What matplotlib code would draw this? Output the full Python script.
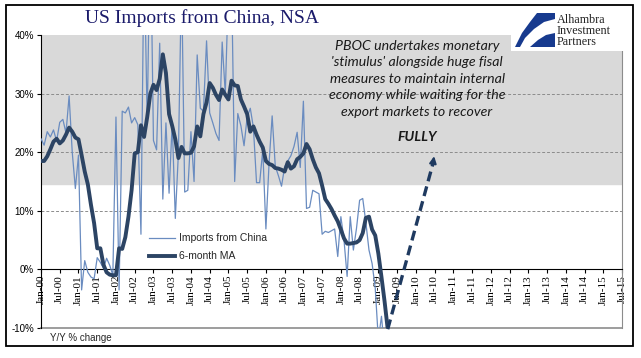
import numpy as np
import matplotlib.pyplot as plt
from matplotlib.patches import Rectangle, Polygon

# monthly y/y % change, Jan-00 onward (spikes above 40% are clipped)
imports_china = [22.3, 21.2, 23.5, 22.6, 23.8, 21.9, 25.1, 25.6, 23.3, 29.6, 20.0, 13.8,
                 19.5, -3.5, 1.5, -0.5, -1.3, -1.6, 2.0, 1.2, 0.2, 1.9, 0.7, -1.0,
                 26.0, -3.5, 27.0, 26.7, 27.7, 25.0, 25.9, 24.7, 6.0, 55.0, 25.0, 60.0,
                 22.0, 20.4, 38.6, 12.0, 25.0, 13.0, 25.0, 8.7, 20.0, 50.0, 13.2, 13.5,
                 23.5, 15.0, 36.6, 27.5, 27.0, 39.0, 26.7, 25.0, 23.2, 22.0, 38.8, 30.0,
                 48.0, 50.0, 15.0, 26.6, 24.5, 21.1, 26.0, 27.5, 24.2, 14.8, 14.8, 20.4,
                 6.9, 18.0, 26.2, 17.6, 16.0, 14.2, 17.5, 18.5, 19.4, 21.0, 23.4, 17.4,
                 28.7, 10.4, 10.6, 13.5, 13.2, 12.9, 6.0, 6.5, 6.3, 6.6, 6.9, 2.2,
                 9.0, 5.0, -1.2, 9.0, 3.3, 7.0, 11.8, 12.1, 8.0, 3.3, 1.0, -3.2,
                 -12.0, -8.0, -14.0, -15.0]
ma_6m = [18.5, 18.5, 19.3, 20.5, 21.8, 22.3, 21.5, 22.0, 23.0, 24.2, 23.5, 22.5,
         22.2, 19.5, 16.7, 14.5, 11.0, 7.9, 3.6, 3.6, 0.8, -0.5, -0.9, -1.0,
         -1.0, 3.6, 3.5, 5.5, 9.0, 13.5, 19.8, 20.0, 24.6, 22.6, 26.0, 30.0,
         31.5, 30.6, 32.5, 36.7, 33.5, 26.5, 24.5, 22.2, 19.0, 20.9, 19.8, 19.8,
         19.9, 21.0, 24.4, 22.7, 26.5, 28.5, 31.8, 31.0, 29.8, 28.9, 30.7, 29.8,
         29.0, 32.2, 31.4, 31.3, 29.0, 27.8, 26.5, 23.5, 24.4, 23.0, 21.8, 20.8,
         18.5, 18.0, 17.8, 17.3, 17.2, 17.0, 16.7, 18.3, 17.2, 17.6, 18.8, 19.2,
         19.8, 21.4, 20.5, 18.8, 17.4, 16.4, 14.3, 12.0, 11.2, 10.3, 9.2, 8.2,
         6.8, 5.3, 4.4, 4.4, 4.5, 4.6, 5.0, 6.2, 8.8, 9.0, 6.8, 5.8,
         2.7, -1.3, -5.5, -10.2]

tick_labels = ['Jan-00', 'Jul-00', 'Jan-01', 'Jul-01', 'Jan-02', 'Jul-02', 'Jan-03', 'Jul-03',
               'Jan-04', 'Jul-04', 'Jan-05', 'Jul-05', 'Jan-06', 'Jul-06', 'Jan-07', 'Jul-07',
               'Jan-08', 'Jul-08', 'Jan-09', 'Jul-09', 'Jan-10', 'Jul-10', 'Jan-11', 'Jul-11',
               'Jan-12', 'Jul-12', 'Jan-13', 'Jul-13', 'Jan-14', 'Jul-14', 'Jan-15', 'Jul-15']
y_ticks = [-10, 0, 10, 20, 30, 40]

# shaded "stimulus" zone and the hoped-for rebound arrow (month index, %)
band_low, band_high = 14.5, 40
arrow_start = (111, -10.2)
arrow_end = (126, 19.8)

note = ("PBOC undertakes monetary\n'stimulus' alongside huge fisal\n"
        "measures to maintain internal\neconomy while waiting for the\n"
        "export markets to recover")

W, H = 641, 358
fig = plt.figure(figsize=(W / 100, H / 100), dpi=100)
ax = fig.add_axes([41 / W, 1 - 328 / H, 581 / W, 293 / H])

n_months = 6 * (len(tick_labels) - 1)
ax.axhspan(band_low, band_high, color='#d9d9d9', zorder=0)
for y in [10, 20, 30]:
    ax.axhline(y, color='#8c8c8c', lw=0.7, ls=(0, (3, 2)), zorder=1)

x = np.arange(len(ma_6m))
ax.plot(x, imports_china, color='#6a8cc0', lw=0.9, label='Imports from China', zorder=3)
ax.plot(x, ma_6m, color='#2c4464', lw=2.8, label='6-month MA', zorder=4)

# dashed rebound arrow
ax.plot([arrow_start[0], arrow_end[0] - 0.4], [arrow_start[1], arrow_end[1] - 1.5],
        color='#1f3a60', lw=2.4, ls=(0, (3, 1.6)), zorder=5, clip_on=False)
ax.annotate('', xy=arrow_end, xytext=(arrow_end[0] - 0.6, arrow_end[1] - 2.0),
            arrowprops=dict(arrowstyle='-|>', color='#1f3a60', lw=1.5, mutation_scale=10),
            zorder=5)

ax.set_xlim(0, n_months)
ax.set_ylim(-10, 40)
ax.spines['bottom'].set_position(('data', 0))
ax.spines['bottom'].set_color('black')
ax.spines['left'].set_color('black')
ax.spines['top'].set_visible(False)
ax.spines['right'].set_color('#8c8c8c')
ax.axhline(-10, color='#8c8c8c', lw=1.2, zorder=2, clip_on=False)

ax.set_yticks(y_ticks)
ax.set_yticklabels([f'{v}%' for v in y_ticks], fontsize=7, family='Liberation Sans')
ax.set_xticks(np.arange(0, n_months + 1, 6))
ax.set_xticklabels(tick_labels, rotation=90, fontsize=8, family='Liberation Serif')
ax.tick_params(axis='x', direction='out', length=3, width=0.8, pad=1)
ax.tick_params(axis='y', direction='out', length=3, width=0.8, pad=2)

leg = ax.legend(loc='upper left', bbox_to_anchor=(0.17, 0.355), frameon=False,
                handlelength=2.5, labelspacing=0.75, handletextpad=0.4,
                prop={'family': 'Liberation Sans', 'size': 7.5})
for t in leg.get_texts():
    t.set_color('#262626')

fig.text(202 / W, 1 - 18 / H, 'US Imports from China, NSA', ha='center', va='center',
         fontsize=14, family='Liberation Serif', color='#1b1b6b')
fig.text(417 / W, 1 - 40 / H, note, ha='center', va='top', fontsize=10.2, style='italic',
         family='Lato', color='#1a1a1a', linespacing=1.44)
fig.text(417 / W, 1 - 137 / H, 'FULLY', ha='center', va='center', fontsize=10.2,
         style='italic', weight='bold', family='Lato', color='#1a1a1a')
fig.text(50 / W, 1 - 338 / H, 'Y/Y % change', ha='left', va='center', fontsize=7,
         family='Liberation Sans', color='#262626')

# outer frame
fig.patches.append(Rectangle((6 / W, 1 - 346 / H), 627 / W, 341 / H, fill=False,
                             lw=1.3, ec='black', transform=fig.transFigure))

# logo box
fig.patches.append(Rectangle((511 / W, 1 - 51 / H), 121 / W, 41 / H, fc='white', ec='none',
                             transform=fig.transFigure, zorder=10))
swoosh_top = [(515, 47), (522, 33), (530, 22), (537, 13), (555, 13), (555, 19),
              (544, 22), (534, 29), (525, 38), (520, 47)]
swoosh_low = [(530, 47), (538, 40), (546, 35), (555, 33), (555, 47)]
for shape in (swoosh_top, swoosh_low):
    fig.patches.append(Polygon([(px / W, 1 - py / H) for px, py in shape], closed=True,
                               fc='#173a8e', ec='none', transform=fig.transFigure, zorder=11))
fig.text(557 / W, 1 - 31 / H, 'Alhambra\nInvestment\nPartners', ha='left', va='center',
         fontsize=8.7, family='Liberation Serif', color='#222222', linespacing=0.92, zorder=12)

fig.savefig('out.png', dpi=100)
